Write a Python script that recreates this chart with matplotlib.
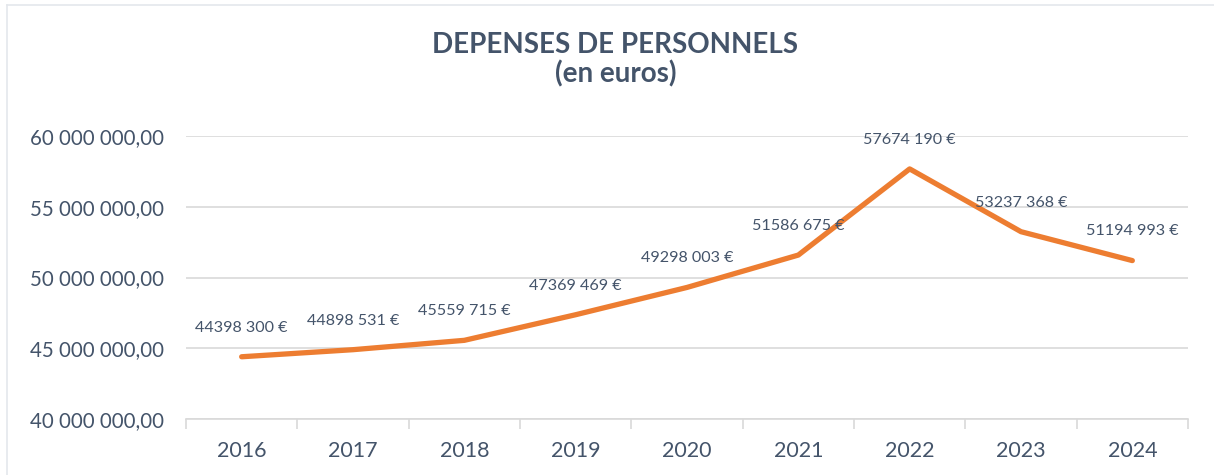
import matplotlib.pyplot as plt
from matplotlib.lines import Line2D
from matplotlib.ticker import FuncFormatter, FixedLocator

# data
years = ["2016", "2017", "2018", "2019", "2020", "2021", "2022", "2023", "2024"]
depenses = [44398300, 44898531, 45559715, 47369469, 49298003, 51586675, 57674190, 53237368, 51194993]

title_txt = "DEPENSES DE PERSONNELS\n(en euros)"

text_col = "#44546A"
line_col = "#ED7D31"
grid_col = "#D9D9D9"
font = ["Lato", "DejaVu Sans"]

plt.rcParams["font.family"] = font

fig = plt.figure(figsize=(12.14, 4.75), dpi=100)
ax = fig.add_axes([186 / 1214, 56 / 475, 1002 / 1214, 283 / 475])

x = list(range(len(years)))
ax.plot(x, depenses, color=line_col, lw=3.8, solid_capstyle="round", solid_joinstyle="round", zorder=3)

# data labels above each point
for xi, v in zip(x, depenses):
    lab = f"{v // 1000} {v % 1000:03d} €"
    ax.annotate(lab, (xi, v), xytext=(0, 21), textcoords="offset points",
                ha="center", va="center", fontsize=11.6, color=text_col, zorder=4)

ax.set_xlim(-0.5, len(years) - 0.5)
ax.set_ylim(40000000, 60000000)
ax.set_yticks([40000000, 45000000, 50000000, 55000000, 60000000])
ax.yaxis.set_major_formatter(FuncFormatter(lambda v, p: f"{int(v):,}".replace(",", " ") + ",00"))
ax.grid(axis="y", color=grid_col, lw=1.2)
ax.set_axisbelow(True)

ax.set_xticks(x)
ax.set_xticklabels(years)
ax.xaxis.set_minor_locator(FixedLocator([i - 0.5 for i in range(len(years) + 1)]))
ax.tick_params(axis="x", which="major", length=0, pad=16, labelsize=15.5, labelcolor=text_col)
ax.tick_params(axis="x", which="minor", length=7, color=grid_col, width=1.2)
ax.tick_params(axis="y", length=0, pad=16, labelsize=14.8, labelcolor=text_col)

for s in ["left", "right", "top"]:
    ax.spines[s].set_visible(False)
ax.spines["bottom"].set_color(grid_col)
ax.spines["bottom"].set_linewidth(1.2)

fig.text(0.507, 1 - 60 / 475, title_txt, ha="center", va="center", fontsize=20,
         fontweight="bold", color=text_col, linespacing=1.12)

# chart frame (top and left edges visible)
fig.add_artist(Line2D([7 / 1214, 7 / 1214], [0, 1 - 5 / 475], color="#E4E7EC", lw=1.2, transform=fig.transFigure))
fig.add_artist(Line2D([7 / 1214, 1], [1 - 5 / 475, 1 - 5 / 475], color="#E4E7EC", lw=1.2, transform=fig.transFigure))

fig.savefig("out.png", dpi=100)
